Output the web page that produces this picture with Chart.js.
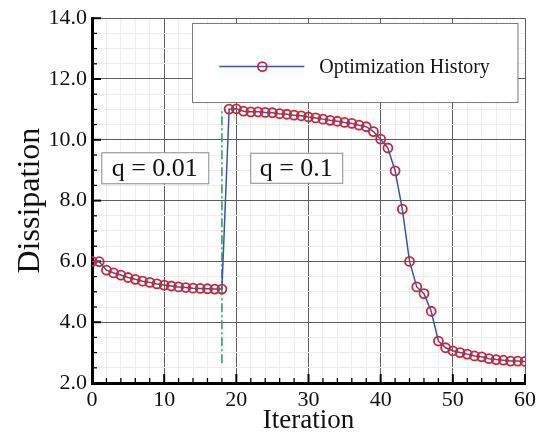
<!DOCTYPE html>
<html>
<head>
<meta charset="UTF-8">
<title>Optimization History</title>
<script src="https://cdn.jsdelivr.net/npm/chart.js"></script>
<style>
  html, body { margin: 0; padding: 0; background: #fff; }
  #wrap { width: 540px; height: 437px; }
</style>
</head>
<body>
<div id="wrap"><canvas id="chart" width="540" height="437"></canvas></div>
<script>
const iterations = [0,1,2,3,4,5,6,7,8,9,10,11,12,13,14,15,16,17,18,19,20,
  21,22,23,24,25,26,27,28,29,30,31,32,33,34,35,36,37,38,39,40,
  41,42,43,44,45,46,47,48,49,50,51,52,53,54,55,56,57,58,59,60];
const dissipation = [6.00,5.99,5.71,5.62,5.55,5.47,5.41,5.35,5.31,5.26,5.22,
  5.19,5.16,5.14,5.12,5.11,5.10,5.09,5.09,11.01,11.02,
  10.94,10.92,10.92,10.90,10.89,10.86,10.84,10.81,10.79,10.75,
  10.72,10.68,10.64,10.61,10.57,10.54,10.48,10.43,10.27,10.02,
  9.73,8.98,7.72,6.00,5.16,4.94,4.36,3.38,3.16,3.06,
  3.00,2.95,2.89,2.86,2.80,2.77,2.75,2.72,2.72,2.71];
const switchIter = [18, 18];
const switchLine = [2.65, 11.05];
const xTicks = [0, 10, 20, 30, 40, 50, 60];
const yTicks = [2, 4, 6, 8, 10, 12, 14];
const notes = [
  { text: 'q = 0.01', x: 8.7, y: 9.08, w: 107, h: 31 },
  { text: 'q = 0.1', x: 28.3, y: 9.08, w: 92, h: 30 }
];
const seriesName = 'Optimization History';

const serif = '"Liberation Serif", "DejaVu Serif", serif';
const lineBlue = '#3556a3';
const markRed = '#c6283a';

const inwardTicks = {
  id: 'inwardTicks',
  beforeDatasetsDraw(chart) {
    const { ctx, chartArea: a, scales: { x, y } } = chart;
    ctx.save();
    ctx.strokeStyle = '#000';
    x.ticks.forEach(t => {
      const major = xTicks.includes(t.value);
      const px = x.getPixelForValue(t.value);
      ctx.lineWidth = major ? 2 : 1.3;
      ctx.beginPath();
      ctx.moveTo(px, a.bottom);
      ctx.lineTo(px, a.bottom - (major ? 9 : 5));
      ctx.stroke();
    });
    y.ticks.forEach(t => {
      const major = yTicks.includes(t.value);
      const py = y.getPixelForValue(t.value);
      ctx.lineWidth = major ? 2 : 1.3;
      ctx.beginPath();
      ctx.moveTo(a.left, py);
      ctx.lineTo(a.left + (major ? 9 : 5), py);
      ctx.stroke();
    });
    ctx.restore();
  }
};

const boxes = {
  id: 'boxes',
  afterDatasetsDraw(chart) {
    const { ctx, scales: { x, y } } = chart;
    ctx.save();
    // text boxes
    notes.forEach(n => {
      const cx = x.getPixelForValue(n.x), cy = y.getPixelForValue(n.y);
      ctx.fillStyle = '#fff';
      ctx.fillRect(cx - n.w / 2, cy - n.h / 2, n.w, n.h);
      ctx.strokeStyle = '#8a8a8a';
      ctx.lineWidth = 1;
      ctx.strokeRect(cx - n.w / 2 + 0.5, cy - n.h / 2 + 0.5, n.w, n.h);
      ctx.fillStyle = '#111';
      ctx.font = '26px ' + serif;
      ctx.textAlign = 'center';
      ctx.textBaseline = 'middle';
      ctx.fillText(n.text, cx, cy + 1);
    });
    // legend box
    const l = x.getPixelForValue(13.9), r = x.getPixelForValue(59.0);
    const t = y.getPixelForValue(13.84), b = y.getPixelForValue(11.24);
    ctx.fillStyle = '#fff';
    ctx.fillRect(l, t, r - l, b - t);
    ctx.strokeStyle = '#7a7a7a';
    ctx.lineWidth = 1;
    ctx.strokeRect(Math.round(l) + 0.5, Math.round(t) + 0.5, r - l, b - t);
    const ly = (t + b) / 2 + 4;
    ctx.strokeStyle = lineBlue;
    ctx.lineWidth = 1.5;
    ctx.beginPath();
    ctx.moveTo(l + 27, ly);
    ctx.lineTo(l + 112, ly);
    ctx.stroke();
    ctx.strokeStyle = markRed;
    ctx.lineWidth = 1.8;
    ctx.beginPath();
    ctx.arc(l + 70, ly, 4.5, 0, Math.PI * 2);
    ctx.stroke();
    ctx.fillStyle = '#111';
    ctx.font = '20px ' + serif;
    ctx.textAlign = 'left';
    ctx.textBaseline = 'middle';
    ctx.fillText(seriesName, l + 127, ly + 1);
    ctx.restore();
  }
};

new Chart(document.getElementById('chart').getContext('2d'), {
  type: 'line',
  data: {
    datasets: [
      {
        label: seriesName,
        data: iterations.map((v, i) => ({ x: v, y: dissipation[i] })),
        borderColor: lineBlue,
        borderWidth: 1.5,
        pointRadius: 4.5,
        pointBorderWidth: 1.8,
        pointBorderColor: markRed,
        pointBackgroundColor: 'rgba(0,0,0,0)',
        tension: 0
      },
      {
        label: 'switch',
        data: switchIter.map((v, i) => ({ x: v, y: switchLine[i] })),
        borderColor: '#38a060',
        borderWidth: 1.6,
        borderDash: [9, 3, 2, 3],
        pointRadius: 0
      }
    ]
  },
  options: {
    responsive: false,
    animation: false,
    layout: { padding: { top: 18, right: 13, left: 0, bottom: 0 } },
    plugins: { legend: { display: false }, tooltip: { enabled: false } },
    scales: {
      x: {
        type: 'linear',
        min: 0, max: 60,
        afterFit: s => { s.height = 54; },
        ticks: {
          stepSize: 2, autoSkip: false, maxRotation: 0, padding: 4,
          color: '#111',
          font: { family: serif, size: 22 },
          callback: v => xTicks.includes(v) ? String(v) : ''
        },
        grid: {
          drawTicks: false,
          color: c => xTicks.includes(c.tick.value) ? '#5e5e5e' : '#ededed',
          lineWidth: 1
        },
        border: { color: '#000', width: 3 },
        title: {
          display: true, text: 'Iteration', color: '#111',
          font: { family: serif, size: 27, lineHeight: 1.2 },
          padding: { top: 0, bottom: 0 }
        }
      },
      y: {
        min: 2, max: 14,
        afterFit: s => { s.width = 92; },
        ticks: {
          stepSize: 0.5, autoSkip: false, padding: 5,
          color: '#111',
          font: { family: serif, size: 22 },
          callback: v => yTicks.includes(v) ? v.toFixed(1) : ''
        },
        grid: {
          drawTicks: false,
          color: c => yTicks.includes(c.tick.value) ? '#5e5e5e' : '#ededed',
          lineWidth: 1
        },
        border: { color: '#000', width: 3 },
        title: {
          display: true, text: 'Dissipation', color: '#111',
          font: { family: serif, size: 32, lineHeight: 1.2 },
          padding: { top: 11, bottom: 0 }
        }
      }
    }
  },
  plugins: [inwardTicks, boxes]
});
</script>
</body>
</html>
